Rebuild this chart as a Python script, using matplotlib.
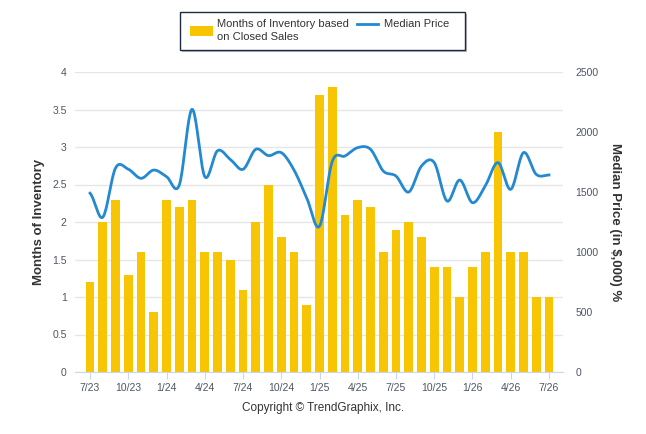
import numpy as np
import matplotlib.pyplot as plt
from matplotlib.patches import Rectangle

plt.rcParams["font.family"] = ["Liberation Sans", "DejaVu Sans"]

months = ["7/23", "8/23", "9/23", "10/23", "11/23", "12/23",
          "1/24", "2/24", "3/24", "4/24", "5/24", "6/24",
          "7/24", "8/24", "9/24", "10/24", "11/24", "12/24",
          "1/25", "2/25", "3/25", "4/25", "5/25", "6/25",
          "7/25", "8/25", "9/25", "10/25", "11/25", "12/25",
          "1/26", "2/26", "3/26", "4/26", "5/26", "6/26", "7/26"]
inventory = [1.2, 2.0, 2.3, 1.3, 1.6, 0.8,
             2.3, 2.2, 2.3, 1.6, 1.6, 1.5,
             1.1, 2.0, 2.5, 1.8, 1.6, 0.9,
             3.7, 3.8, 2.1, 2.3, 2.2, 1.6,
             1.9, 2.0, 1.8, 1.4, 1.4, 1.0,
             1.4, 1.6, 3.2, 1.6, 1.6, 1.0, 1.0]
median_price = [1490, 1290, 1700, 1690, 1614, 1683,
                1628, 1558, 2189, 1628, 1844, 1772,
                1689, 1856, 1803, 1828, 1683, 1450,
                1215, 1755, 1800, 1870, 1856, 1675,
                1633, 1500, 1717, 1745, 1425, 1600,
                1411, 1550, 1745, 1522, 1828, 1647, 1642]
tick_labels = ["7/23", "10/23", "1/24", "4/24", "7/24", "10/24", "1/25",
               "4/25", "7/25", "10/25", "1/26", "4/26", "7/26"]

bar_color = "#F8C505"
line_color = "#2389D0"
text_color = "#4D5566"


def smooth(x, y, n=20):
    # catmull-rom through the monthly points
    x = np.asarray(x, float)
    y = np.asarray(y, float)
    px = np.concatenate([[2 * x[0] - x[1]], x, [2 * x[-1] - x[-2]]])
    py = np.concatenate([[y[0]], y, [y[-1]]])
    xs, ys = [], []
    t = np.linspace(0, 1, n, endpoint=False)
    for i in range(1, len(px) - 2):
        for arr, out in ((px, xs), (py, ys)):
            p0, p1, p2, p3 = arr[i - 1], arr[i], arr[i + 1], arr[i + 2]
            out.extend(0.5 * ((2 * p1) + (-p0 + p2) * t
                              + (2 * p0 - 5 * p1 + 4 * p2 - p3) * t ** 2
                              + (-p0 + 3 * p1 - 3 * p2 + p3) * t ** 3))
    xs.append(x[-1])
    ys.append(y[-1])
    return np.array(xs), np.array(ys)


fig = plt.figure(figsize=(6.46, 4.34), dpi=100)
ax = fig.add_axes([75 / 646, 62 / 434, 488 / 646, 300 / 434])
ax2 = ax.twinx()

x = np.arange(len(months))
ax.bar(x, inventory, width=0.68, color=bar_color, zorder=2)
sx, sy = smooth(x, median_price)
ax2.plot(sx, sy, color=line_color, lw=2, zorder=3)

ax.set_xlim(-1.18, 37.1)
ax.set_ylim(0, 4)
ax2.set_ylim(0, 2500)
ax.set_yticks(np.arange(0, 4.01, 0.5))
ax.set_yticklabels(["0", "0.5", "1", "1.5", "2", "2.5", "3", "3.5", "4"])
ax2.set_yticks(np.arange(0, 2501, 500))
ax.set_xticks([months.index(m) for m in tick_labels])
ax.set_xticklabels(tick_labels)

ax.grid(axis="y", color="#E6E6E6", lw=1, zorder=0)
ax.set_axisbelow(True)
for a in (ax, ax2):
    for s in a.spines.values():
        s.set_visible(False)
ax.spines["bottom"].set_visible(True)
ax.spines["bottom"].set_color("#CCD6EB")
ax.tick_params(axis="x", colors="#CCD6EB", length=5, labelcolor=text_color,
               labelsize=7.5, pad=3)
ax.tick_params(axis="y", length=0, labelcolor=text_color, labelsize=7.5, pad=6)
ax2.tick_params(axis="y", length=0, labelcolor=text_color, labelsize=7.5, pad=9)

ax.set_ylabel("Months of Inventory", fontsize=9.5, fontweight="bold",
              color="#333333", labelpad=5)
ax2.set_ylabel("Median Price (in $,000) %", fontsize=9.5, fontweight="bold",
               color="#333333", rotation=270, labelpad=16)

fig.text(0.5, 26 / 434, "Copyright \u00a9 TrendGraphix, Inc.", ha="center",
         va="center", fontsize=8.5, color="#333333")

# legend box
shadow = Rectangle((182 / 646, 1 - 52 / 434), 285 / 646, 38 / 434,
                   transform=fig.transFigure, facecolor="#BBBBBB",
                   edgecolor="none", zorder=0)
box = Rectangle((180 / 646, 1 - 50 / 434), 285 / 646, 38 / 434,
                transform=fig.transFigure, facecolor="white",
                edgecolor="#1F2A44", lw=1, zorder=1)
fig.patches.extend([shadow, box])
fig.patches.append(Rectangle((190 / 646, 1 - 36 / 434), 23 / 646, 10 / 434,
                             transform=fig.transFigure, facecolor=bar_color,
                             edgecolor="none", zorder=2))
fig.text(217 / 646, 1 - 30.5 / 434, "Months of Inventory based\non Closed Sales",
         ha="left", va="center", fontsize=8, color="#333333",
         linespacing=1.3)
fig.lines.append(plt.Line2D([357 / 646, 378 / 646], [1 - 24 / 434, 1 - 24 / 434],
                            transform=fig.transFigure, color=line_color, lw=2))
fig.text(384 / 646, 1 - 24 / 434, "Median Price", ha="left", va="center",
         fontsize=8, color="#333333")

fig.savefig("out.png", dpi=100)
